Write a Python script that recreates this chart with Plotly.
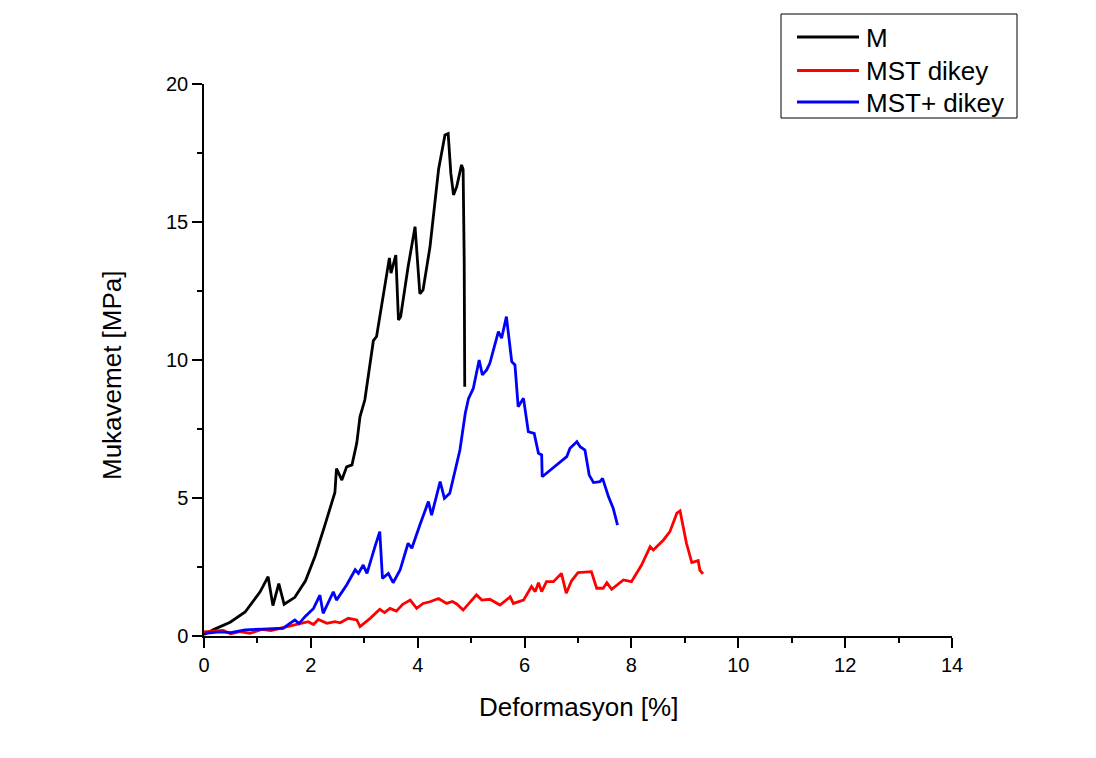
import plotly.graph_objects as go

# Stress-strain curves (strain in %, strength in MPa)
m_strain = [0.0, 0.2, 0.49, 0.77, 1.05, 1.2, 1.29, 1.4, 1.5, 1.7, 1.9, 2.08, 2.26, 2.45, 2.48,
            2.58, 2.67, 2.77, 2.86, 2.92, 3.01, 3.17, 3.23, 3.36, 3.47, 3.5, 3.59, 3.64, 3.68,
            3.82, 3.95, 4.04, 4.1, 4.23, 4.39, 4.51, 4.57, 4.62, 4.67, 4.73, 4.82, 4.85, 4.87, 4.88]
m_stress = [0.05, 0.25, 0.5, 0.87, 1.6, 2.15, 1.1, 1.9, 1.15, 1.4, 2.0, 2.9, 4.0, 5.2, 6.07,
            5.65, 6.13, 6.2, 7.0, 7.95, 8.55, 10.7, 10.85, 12.4, 13.7, 13.15, 13.8, 11.45, 11.57,
            13.38, 14.83, 12.4, 12.54, 14.1, 16.9, 18.15, 18.2, 16.76, 15.98, 16.28, 17.07, 16.9, 13.6, 9.03]

mst_strain = [0.0, 0.15, 0.36, 0.5, 0.67, 0.86, 1.08, 1.25, 1.42, 1.6, 1.8, 1.95, 2.05, 2.14, 2.3,
              2.45, 2.55, 2.7, 2.86, 2.92, 3.11, 3.29, 3.38, 3.48, 3.6, 3.72, 3.86, 3.98, 4.1, 4.23,
              4.39, 4.54, 4.65, 4.73, 4.85, 5.1, 5.2, 5.35, 5.54, 5.73, 5.79, 5.98, 6.13, 6.2, 6.26,
              6.32, 6.41, 6.54, 6.69, 6.78, 6.88, 7.0, 7.25, 7.35, 7.47, 7.54, 7.63, 7.85, 8.0, 8.19,
              8.35, 8.41, 8.6, 8.72, 8.85, 8.91, 9.03, 9.13, 9.25, 9.28, 9.34]
mst_stress = [0.15, 0.18, 0.2, 0.08, 0.16, 0.1, 0.24, 0.2, 0.28, 0.36, 0.46, 0.52, 0.42, 0.6, 0.46,
              0.52, 0.48, 0.64, 0.58, 0.34, 0.64, 0.97, 0.85, 1.0, 0.9, 1.15, 1.3, 1.0, 1.18, 1.24,
              1.36, 1.18, 1.25, 1.16, 0.94, 1.49, 1.3, 1.33, 1.12, 1.42, 1.18, 1.3, 1.79, 1.61, 1.93,
              1.61, 1.97, 1.97, 2.27, 1.55, 2.0, 2.3, 2.33, 1.73, 1.73, 1.93, 1.69, 2.03, 1.97, 2.57,
              3.24, 3.12, 3.48, 3.78, 4.45, 4.53, 3.36, 2.66, 2.73, 2.39, 2.25]

mstp_strain = [0.02, 0.3, 0.5, 0.77, 1.1, 1.48, 1.6, 1.7, 1.78, 1.89, 2.05, 2.17, 2.23, 2.42, 2.48,
               2.67, 2.83, 2.89, 2.98, 3.05, 3.2, 3.29, 3.34, 3.45, 3.54, 3.67, 3.82, 3.89, 4.04,
               4.2, 4.26, 4.42, 4.5, 4.6, 4.79, 4.89, 4.95, 5.04, 5.15, 5.21, 5.29, 5.35, 5.51, 5.57,
               5.66, 5.76, 5.82, 5.88, 5.98, 6.07, 6.18, 6.26, 6.32, 6.33, 6.79, 6.85, 6.98, 7.04,
               7.13, 7.21, 7.29, 7.41, 7.46, 7.57, 7.66, 7.74]
mstp_stress = [0.1, 0.15, 0.12, 0.22, 0.25, 0.28, 0.45, 0.58, 0.45, 0.7, 1.0, 1.48, 0.82, 1.6, 1.3,
               1.85, 2.4, 2.27, 2.57, 2.27, 3.24, 3.78, 2.09, 2.27, 1.93, 2.39, 3.36, 3.18, 4.02,
               4.87, 4.38, 5.59, 4.99, 5.17, 6.74, 8.07, 8.6, 8.97, 10.0, 9.46, 9.64, 9.88, 11.03, 10.79,
               11.57, 9.94, 9.82, 8.31, 8.61, 7.4, 7.34, 6.62, 6.56, 5.77, 6.5, 6.8, 7.04, 6.86,
               6.74, 5.83, 5.56, 5.59, 5.71, 5.05, 4.62, 4.02]

series = [
    ("M", m_strain, m_stress, "#000000"),
    ("MST dikey", mst_strain, mst_stress, "#ff0000"),
    ("MST+ dikey", mstp_strain, mstp_stress, "#0000ff"),
]

FONT = "Arial, Liberation Sans, sans-serif"
W, H = 1096, 758
L, R, T, B = 204, 952, 84, 636          # plot-area edges in pixels
PW, PH = R - L, B - T


def px(xp):
    return (xp - L) / PW


def py(yp):
    return (B - yp) / PH


fig = go.Figure()
for name, xs, ys, col in series:
    fig.add_trace(go.Scatter(x=xs, y=ys, mode="lines", name=name,
                             line=dict(color=col, width=2.8), showlegend=False))

# Boxed legend in the upper right corner
shapes = [dict(type="rect", xref="paper", yref="paper",
               x0=px(781), x1=px(1017), y0=py(118), y1=py(14),
               line=dict(color="black", width=1), fillcolor="white", layer="above")]
annotations = []
row_y = [37, 70.5, 102]
for (name, _, _, col), ry in zip(series, row_y):
    shapes.append(dict(type="line", xref="paper", yref="paper",
                       x0=px(797), x1=px(859), y0=py(ry), y1=py(ry),
                       line=dict(color=col, width=2.8), layer="above"))
    annotations.append(dict(xref="paper", yref="paper", x=px(864), y=py(ry + 1),
                            text=name, showarrow=False, xanchor="left", yanchor="middle",
                            font=dict(family=FONT, size=26, color="black")))

# Axis titles
annotations.append(dict(xref="paper", yref="paper", x=px(578), y=py(707),
                        text="Deformasyon [%]", showarrow=False,
                        xanchor="center", yanchor="middle",
                        font=dict(family=FONT, size=26, color="black")))
annotations.append(dict(xref="paper", yref="paper", x=px(112), y=py(375),
                        text="Mukavemet [MPa]", showarrow=False, textangle=-90,
                        xanchor="center", yanchor="middle",
                        font=dict(family=FONT, size=26, color="black")))

fig.update_layout(
    width=W, height=H,
    paper_bgcolor="white", plot_bgcolor="white",
    margin=dict(l=L, r=W - R, t=T, b=H - B),
    font=dict(family=FONT, color="black"),
    shapes=shapes, annotations=annotations,
    showlegend=False,
)
fig.update_xaxes(
    range=[0, 14], dtick=2, tick0=0, showgrid=False, zeroline=False,
    showline=True, linecolor="black", linewidth=1.5,
    ticks="outside", ticklen=10, tickwidth=1.5, tickcolor="black",
    minor=dict(ticks="outside", ticklen=5, dtick=1, tickcolor="black", tickwidth=1.5),
    tickfont=dict(size=20, family=FONT),
)
fig.update_yaxes(
    range=[0, 20], dtick=5, tick0=0, showgrid=False, zeroline=False,
    showline=True, linecolor="black", linewidth=1.5,
    ticks="outside", ticklen=10, tickwidth=1.5, tickcolor="black",
    minor=dict(ticks="outside", ticklen=5, dtick=2.5, tickcolor="black", tickwidth=1.5),
    tickfont=dict(size=20, family=FONT),
)

fig.write_html("out.html")
